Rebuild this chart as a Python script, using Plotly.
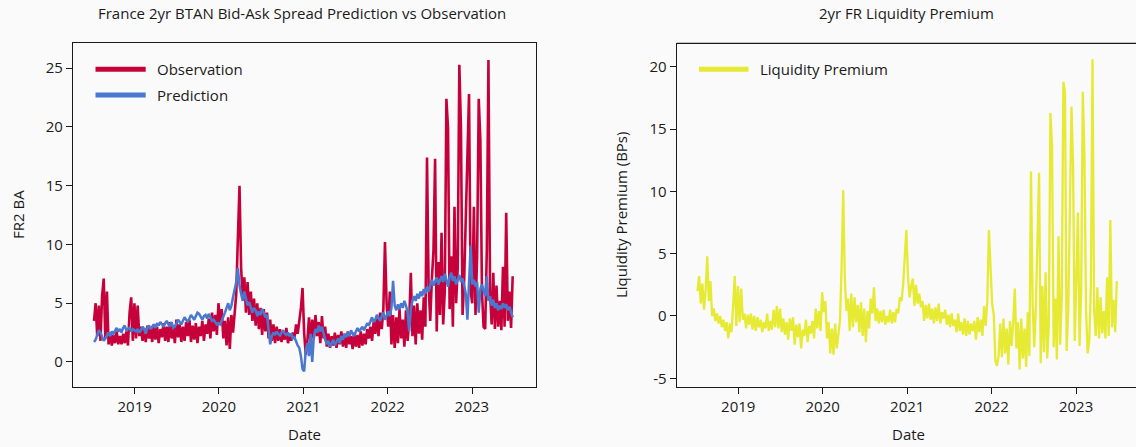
import pandas as pd
import plotly.graph_objects as go

# ---------------- data (weekly readings, Mondays from 2018-07-09) ----------------
start_date = "2018-07-09"
year_ticks = ["2019-01-01", "2020-01-01", "2021-01-01", "2022-01-01", "2023-01-01"]
year_labels = ["2019", "2020", "2021", "2022", "2023"]

obs_2018 = [3.5, 5.0, 2.2, 4.8, 1.8, 5.6, 7.1, 2.0, 6.0, 1.5, 2.5, 1.4, 2.3, 1.6, 2.6, 1.5, 2.2, 1.5, 2.4, 1.6,
            2.6, 1.4, 4.2, 5.5, 1.8, 5.0]
obs_2019 = [2.0, 4.8, 2.2, 3.0, 1.8, 2.9, 1.7, 3.1, 2.0, 2.8, 1.7, 3.2, 1.9, 3.0, 1.6, 2.8, 2.1, 3.3, 1.8, 3.0,
            1.7, 3.4, 2.0, 3.1, 1.6, 3.6, 2.1, 3.2, 1.7, 3.0, 1.8, 3.4, 2.2, 3.6, 1.7, 3.1, 1.9, 3.3, 1.6, 3.0,
            2.2, 3.5, 1.8, 3.2, 2.4, 3.7, 2.0, 4.2, 2.6, 4.0, 2.3, 5.0]
obs_2020 = [3.2, 4.5, 2.0, 3.5, 1.4, 3.8, 1.1, 4.0, 2.5, 4.2, 5.8, 10.6, 15.0, 8.0, 5.5, 7.2, 4.2, 6.8, 4.0, 6.0,
            3.5, 5.4, 3.1, 5.0, 2.8, 4.6, 2.3, 4.5, 2.6, 4.2, 2.0, 3.6, 1.8, 3.2, 1.6, 3.0, 1.8, 2.8, 1.7, 2.6,
            1.9, 2.9, 1.6, 2.4, 1.8, 2.5, 2.0, 3.2, 2.4, 3.5, 4.6, 6.3]
obs_2021 = [2.5, 0.6, 1.8, 3.8, 1.5, 3.6, 2.0, 4.0, 2.2, 3.4, 1.6, 3.9, 2.0, 3.0, 1.3, 2.4, 1.2, 2.2, 1.4, 2.5,
            1.2, 2.3, 1.5, 2.6, 1.3, 2.4, 1.2, 2.6, 1.5, 2.2, 1.1, 2.5, 1.3, 2.3, 1.2, 2.6, 1.4, 2.4, 1.5, 2.8,
            2.0, 3.0, 1.8, 3.4, 2.4, 3.8, 2.2, 4.2, 2.8, 4.5, 10.2, 5.0]
obs_2022 = [3.0, 6.0, 1.5, 4.0, 1.2, 3.8, 1.6, 4.5, 2.0, 3.6, 1.3, 4.4, 1.8, 3.5, 7.6, 2.2, 4.8, 1.5, 5.0, 2.4,
            4.4, 1.9, 5.5, 3.0, 17.4, 6.5, 3.5, 7.0, 9.5, 17.3, 2.6, 8.5, 4.0, 11.0, 3.2, 6.0, 22.4, 19.9, 4.5, 9.0,
            3.0, 13.2, 5.0, 8.0, 25.3, 20.0, 4.0, 7.0, 12.0, 18.8, 22.8, 6.0]
obs_2023 = [5.0, 13.2, 4.0, 9.0, 22.4, 18.9, 6.0, 3.0, 2.8, 9.5, 25.7, 6.0, 3.2, 7.6, 2.8, 6.5, 3.0, 5.2, 2.7, 8.1,
            3.0, 12.7, 3.5, 6.0, 2.9, 7.3]

pred_2018 = [1.7, 1.9, 2.3, 2.7, 2.5, 2.2, 1.8, 2.0, 2.3, 2.5, 2.2, 2.6, 2.4, 2.7, 2.9, 2.6, 2.8, 2.5, 2.9, 3.1,
             2.7, 2.8, 2.9, 2.6, 2.8, 2.7]
pred_2019 = [2.6, 2.8, 2.5, 2.7, 3.0, 2.8, 2.4, 2.9, 3.1, 2.8, 3.0, 3.2, 2.9, 3.3, 3.1, 3.4, 3.2, 3.0, 3.3, 3.5,
             3.2, 3.1, 3.4, 2.9, 3.0, 3.3, 3.6, 3.4, 3.2, 3.5, 3.8, 3.6, 3.4, 3.7, 4.0, 3.8, 3.6, 3.9, 4.2, 4.1,
             3.8, 3.6, 3.9, 4.0, 3.7, 4.1, 3.8, 3.5, 3.6, 3.4, 3.2, 3.3]
pred_2020 = [3.2, 3.5, 3.8, 4.2, 4.6, 5.0, 4.4, 4.8, 5.5, 6.2, 6.8, 8.0, 6.5, 5.8, 5.2, 6.0, 5.4, 4.8, 5.1, 4.6,
             4.2, 4.6, 4.4, 3.9, 4.3, 4.0, 4.5, 4.2, 3.8, 4.0, 2.5, 1.5, 2.2, 2.5, 2.3, 2.6, 2.4, 2.2, 2.5, 2.7,
             2.4, 2.3, 2.5, 2.2, 2.4, 2.0, 2.1, 1.7, 1.4, 1.2, 0.5, -0.6]
pred_2021 = [-0.8, 1.0, 1.6, 0.5, 2.4, 0.0, 2.2, 2.8, 2.5, 3.1, 2.6, 3.0, 2.4, 1.9, 1.5, 1.8, 1.3, 1.6, 1.9, 1.4,
             1.7, 2.0, 1.6, 2.2, 1.9, 2.4, 2.1, 2.5, 2.2, 2.7, 2.4, 2.2, 2.6, 2.9, 2.6, 2.8, 3.0, 2.7, 3.0, 3.3,
             3.1, 3.5, 3.8, 3.4, 3.6, 4.0, 3.7, 3.5, 3.9, 4.2, 3.6, 4.0]
pred_2022 = [4.3, 3.9, 4.6, 6.9, 4.8, 4.4, 4.9, 4.5, 5.0, 4.6, 5.2, 4.8, 4.2, 2.6, 4.5, 5.2, 5.6, 5.2, 5.8, 5.4,
             6.0, 5.6, 6.2, 5.8, 6.4, 6.0, 6.6, 7.0, 6.5, 6.8, 7.2, 6.6, 6.9, 7.3, 6.8, 7.5, 7.0, 6.4, 7.2, 7.6,
             6.9, 7.3, 6.6, 7.0, 7.4, 6.8, 7.1, 6.5, 5.8, 3.6, 7.0, 9.9]
pred_2023 = [6.6, 7.0, 6.4, 6.8, 4.2, 6.2, 6.6, 6.0, 5.6, 7.3, 5.2, 5.6, 4.8, 5.3, 4.6, 5.0, 4.4, 4.8, 4.5, 5.0,
             4.6, 4.9, 4.4, 4.7, 4.2, 3.8]

lp_2018 = [2.0, 3.2, 1.0, 2.6, 0.5, 2.0, 4.8, 1.2, 2.8, 0.0, 0.6, -0.4, 0.2, -0.6, 0.0, -0.9, -0.3, -1.2, -0.5, -1.8,
           -0.6, -1.3, 0.8, 3.2, -0.8, 2.4]
lp_2019 = [-0.5, 2.2, -0.3, 0.2, -1.0, 0.1, -0.7, 0.2, -1.1, 0.0, -1.2, -0.1, -0.9, -0.3, -1.3, -0.5, -1.0, 0.2, -1.2, -0.4,
           -1.1, 0.5, -0.9, 0.8, -1.0, 0.6, -1.3, -0.2, -1.5, -0.5, -1.9, -0.2, -1.2, -0.1, -2.3, -0.7, -1.7, -0.6, -2.6, -1.1,
           -1.6, -0.3, -2.1, -0.8, -1.4, -0.4, -1.8, 0.6, -1.0, 0.4, -1.2, 1.9]
lp_2020 = [0.3, 1.2, -1.8, -0.5, -3.0, -1.0, -3.1, -0.6, -2.6, -1.5, -0.4, 3.9, 10.1, 3.0, 0.4, 1.4, -1.2, 1.8, -0.9, 1.5,
           -0.5, 0.9, -1.3, 1.1, -1.6, 0.6, -2.1, 0.4, -1.0, 1.4, 0.2, 2.3, -0.4, 0.6, -0.6, 0.4, -0.5, 0.5, -0.7, 0.0,
           -0.5, 0.5, -0.6, 0.3, -0.5, 0.6, 0.2, 1.5, 1.2, 2.5, 4.8, 6.9]
lp_2021 = [3.2, 1.5, 2.4, 3.0, 0.8, 2.5, 1.0, 1.8, 0.7, 1.2, -0.4, 0.9, -0.2, 1.0, -0.3, 0.6, -0.6, 0.7, -0.4, 1.0,
           -0.6, 0.3, -0.2, 0.5, -0.7, 0.1, -0.9, 0.2, -0.8, -0.3, -1.3, 0.2, -1.2, -0.5, -1.5, -0.2, -1.6, -0.4, -1.5, -0.6,
           -1.2, -0.4, -1.9, -0.1, -1.3, -0.3, -1.6, 0.8, -0.8, 1.2, 6.9, 3.4]
lp_2022 = [1.0, 0.1, -3.6, -4.0, -3.2, -0.6, -3.3, -0.2, -3.0, -1.0, -3.9, -0.4, -2.4, -0.5, 2.2, -2.6, -0.5, -4.3, -0.2, -3.4,
           -1.0, -4.1, 0.3, -3.2, 11.6, 1.0, -2.5, 0.8, 6.1, 11.5, -3.8, 2.4, -2.9, 3.5, -3.4, -0.8, 16.3, 13.6, -2.5, 1.4,
           -3.5, 6.4, -2.3, 1.4, 18.8, 17.9, -2.8, 0.4, 8.3, 16.8, 12.0, -2.0]
lp_2023 = [3.0, 8.3, -2.4, 2.2, 18.0, 13.0, 0.5, -3.0, -2.0, 2.5, 20.6, 0.4, -1.6, 2.3, -1.8, 1.5, -1.4, 0.4, -1.8, 3.1,
           -1.6, 7.7, -0.9, 1.3, -1.3, 2.8]

observation = obs_2018 + obs_2019 + obs_2020 + obs_2021 + obs_2022 + obs_2023
prediction = pred_2018 + pred_2019 + pred_2020 + pred_2021 + pred_2022 + pred_2023
liquidity = lp_2018 + lp_2019 + lp_2020 + lp_2021 + lp_2022 + lp_2023
dates = pd.date_range(start_date, periods=len(observation), freq="7D")

# ---------------- styling ----------------
W, H = 1136, 447
RED = "#C5003A"
BLUE = "#4A78CF"
YELLOW = "#E6EA32"
BG = "#FAFAFA"
INK = "#1a1a1a"
FONT = "Open Sans"
FS = 15


def px(x):
    return x / W


def py(y):
    return 1 - y / H


fig = go.Figure()
fig.add_trace(go.Scatter(x=dates, y=observation, mode="lines", line=dict(color=RED, width=2.6),
                         name="Observation", showlegend=False, xaxis="x", yaxis="y"))
fig.add_trace(go.Scatter(x=dates, y=prediction, mode="lines", line=dict(color=BLUE, width=2.5),
                         name="Prediction", showlegend=False, xaxis="x", yaxis="y"))
fig.add_trace(go.Scatter(x=dates, y=liquidity, mode="lines", line=dict(color=YELLOW, width=2.3),
                         name="Liquidity Premium", showlegend=False, xaxis="x2", yaxis="y2"))

ydom = [py(387), py(43.3)]
axis_common = dict(showgrid=False, zeroline=False, showline=True, linecolor=INK, linewidth=1.2,
                   ticks="outside", ticklen=6, tickwidth=1, tickcolor=INK,
                   tickfont=dict(family=FONT, size=FS, color=INK))

fig.update_layout(
    width=W, height=H,
    margin=dict(l=0, r=0, t=0, b=0),
    paper_bgcolor=BG, plot_bgcolor=BG,
    font=dict(family=FONT, size=FS, color=INK),
    showlegend=False,
    xaxis=dict(domain=[px(73), px(536)], type="date", range=["2018-04-09", "2023-10-05"],
               tickvals=year_ticks, ticktext=year_labels, mirror=True, anchor="y", **axis_common),
    yaxis=dict(domain=ydom, range=[-2.13, 27.12], tickvals=[0, 5, 10, 15, 20, 25],
               ticktext=["0", "5", "10", "15", "20", "25"], mirror=True, anchor="x", **axis_common),
    xaxis2=dict(domain=[px(676.7), 1.0], type="date", range=["2018-04-10", "2023-09-17"],
                tickvals=year_ticks, ticktext=year_labels, anchor="y2", **axis_common),
    yaxis2=dict(domain=ydom, range=[-5.70, 21.89], tickvals=[-5, 0, 5, 10, 15, 20],
                ticktext=["-5", "0", "5", "10", "15", "20"], anchor="x2", **axis_common),
)

shapes = [
    # top spine of right panel (it runs off the right edge of the page)
    dict(type="line", xref="paper", yref="paper", x0=px(676.7), x1=1.0, y0=ydom[1], y1=ydom[1],
         line=dict(color=INK, width=1.2)),
    # legend swatches
    dict(type="line", xref="paper", yref="paper", x0=px(95.5), x1=px(145.7), y0=py(69.3), y1=py(69.3),
         line=dict(color=RED, width=5)),
    dict(type="line", xref="paper", yref="paper", x0=px(95.5), x1=px(145.7), y0=py(95), y1=py(95),
         line=dict(color=BLUE, width=5)),
    dict(type="line", xref="paper", yref="paper", x0=px(699), x1=px(748.5), y0=py(69.3), y1=py(69.3),
         line=dict(color=YELLOW, width=5)),
]
fig.update_layout(shapes=shapes)


def ann(text, x, y, xanchor="center", angle=0):
    return dict(text=text, x=px(x), y=py(y), xref="paper", yref="paper", showarrow=False,
                xanchor=xanchor, yanchor="middle", textangle=angle,
                font=dict(family=FONT, size=FS, color=INK))


fig.update_layout(annotations=[
    ann("France 2yr BTAN Bid-Ask Spread Prediction vs Observation", 302, 13),
    ann("2yr FR Liquidity Premium", 906, 13),
    ann("Date", 304.5, 434),
    ann("Date", 908, 434),
    ann("FR2 BA", 18, 215, angle=-90),
    ann("Liquidity Premium (BPs)", 621, 215, angle=-90),
    ann("Observation", 155, 69.3, xanchor="left"),
    ann("Prediction", 155, 95, xanchor="left"),
    ann("Liquidity Premium", 758, 69.3, xanchor="left"),
])

fig.write_html("out.html", config={"displayModeBar": False},
               post_script="document.body.style.margin='0';document.body.style.overflow='hidden';")
